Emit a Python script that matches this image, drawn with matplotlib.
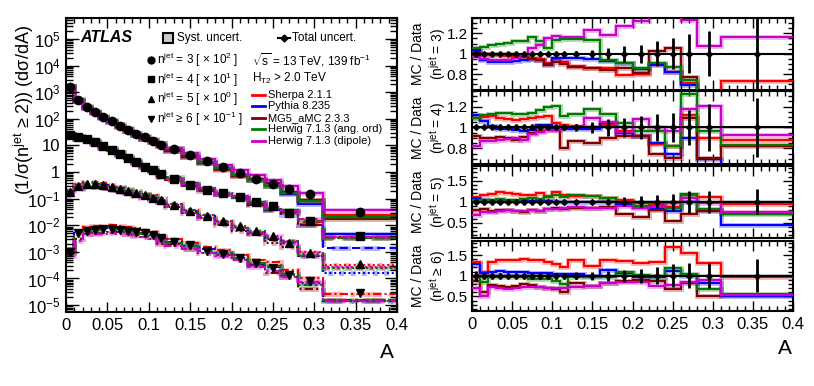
import numpy as np
import matplotlib.pyplot as plt
from matplotlib.patches import Rectangle
from matplotlib.ticker import (MultipleLocator, FixedLocator, FixedFormatter,
                               LogLocator, NullFormatter, FuncFormatter)

plt.rcParams['font.family'] = ['Liberation Sans', 'DejaVu Sans']
plt.rcParams['mathtext.fontset'] = 'custom'
plt.rcParams['mathtext.rm'] = 'Liberation Sans'
plt.rcParams['mathtext.it'] = 'Liberation Sans:italic'
plt.rcParams['mathtext.bf'] = 'Liberation Sans:bold'

# bin edges in A
edges = [0, 0.01, 0.02, 0.03, 0.04, 0.05, 0.06, 0.07, 0.08, 0.09, 0.10, 0.11,
         0.12, 0.14, 0.16, 0.18, 0.20, 0.22, 0.24, 0.26, 0.28, 0.31, 0.40]

# data, already multiplied by the scale factor shown in the legend
data3 = [1620, 513, 282, 186, 120, 83, 55, 38, 27, 20, 14.8, 10.5, 7.2, 4.4,
         2.6, 1.5, 0.89, 0.55, 0.355, 0.224, 0.148, 0.032]
data4 = [24.5, 20, 17, 13.2, 9.3, 6.9, 4.9, 3.3, 2.3, 1.62, 1.17, 0.85, 0.56,
         0.34, 0.22, 0.16, 0.112, 0.076, 0.052, 0.028, 0.0148, 0.004]
data5 = [0.182, 0.30, 0.347, 0.355, 0.316, 0.275, 0.24, 0.20, 0.166, 0.135,
         0.11, 0.087, 0.056, 0.034, 0.0224, 0.0141, 0.0093, 0.006, 0.004,
         0.0022, 0.0009, 0.00035]
data6 = [0.0010, 0.0050, 0.0063, 0.0068, 0.0071, 0.0072, 0.0068, 0.0063,
         0.0056, 0.0050, 0.0043, 0.0032, 0.0023, 0.00174, 0.00112, 0.00085,
         0.00058, 0.00037, 0.00024, 0.000135, 0.000081, 0.000028]

# total relative uncertainty on data
err3 = [0.015, 0.01, 0.01, 0.01, 0.01, 0.01, 0.01, 0.012, 0.012, 0.014, 0.016,
        0.02, 0.025, 0.04, 0.055, 0.08, 0.09, 0.12, 0.15, 0.19, 0.22, 0.45]
err4 = [0.012, 0.01, 0.01, 0.01, 0.01, 0.01, 0.012, 0.012, 0.014, 0.016, 0.02,
        0.022, 0.03, 0.055, 0.08, 0.09, 0.11, 0.13, 0.14, 0.17, 0.23, 0.28]
err5 = [0.03, 0.02, 0.02, 0.02, 0.02, 0.02, 0.02, 0.02, 0.025, 0.025, 0.03,
        0.03, 0.04, 0.05, 0.06, 0.11, 0.13, 0.16, 0.19, 0.26, 0.26, 0.30]
err6 = [0.12, 0.07, 0.06, 0.06, 0.06, 0.06, 0.06, 0.06, 0.06, 0.06, 0.07, 0.07,
        0.08, 0.10, 0.12, 0.15, 0.17, 0.20, 0.28, 0.30, 0.30, 0.40]
syst_half = {'3': 0.01, '4': 0.015, '5': 0.03, '6': 0.04}

# MC / data ratios
sherpa3 = [1.02, 1.00, 0.99, 0.99, 0.98, 0.98, 0.97, 0.96, 0.95, 0.91, 0.95,
           0.92, 0.88, 0.86, 0.86, 0.79, 0.80, 0.90, 0.82, 0.71, 0.60, 0.73]
pythia3 = [1.04, 0.94, 0.92, 0.92, 0.92, 0.93, 0.94, 0.95, 0.94, 0.90, 0.96,
           0.96, 0.96, 0.95, 0.93, 0.91, 0.85, 0.89, 0.82, 0.69, 0.42, 0.15]
mg5_3 = [1.02, 1.00, 1.00, 1.00, 1.00, 0.99, 0.98, 0.95, 0.94, 0.89, 0.92,
         0.90, 0.87, 0.86, 0.84, 0.86, 0.81, 1.03, 1.06, 0.77, 0.60, 0.56]
hang3 = [1.06, 1.07, 1.09, 1.10, 1.11, 1.12, 1.12, 1.16, 1.12, 1.06, 1.13,
         1.14, 1.14, 1.13, 0.94, 0.91, 0.86, 0.91, 0.87, 0.74, 0.55, 0.62]
hdip3 = [0.97, 0.95, 0.94, 0.94, 0.94, 0.96, 0.99, 1.06, 1.09, 1.15, 1.17,
         1.16, 1.16, 1.23, 1.18, 1.27, 1.32, 1.45, 1.45, 1.33, 1.08, 1.16]

sherpa4 = [1.09, 1.10, 1.11, 1.09, 1.08, 1.07, 1.08, 1.09, 1.10, 1.11, 1.04,
           1.02, 1.01, 1.00, 1.02, 0.97, 0.92, 0.84, 0.82, 1.12, 0.90, 0.88]
pythia4 = [1.12, 1.06, 1.01, 0.99, 0.99, 0.98, 0.97, 0.98, 1.02, 1.02, 0.99,
           0.99, 0.99, 0.99, 1.04, 0.95, 0.92, 0.85, 0.75, 0.90, 0.70, 0.36]
mg5_4 = [0.92, 0.90, 0.90, 0.91, 0.90, 0.88, 0.91, 0.95, 0.97, 0.98, 0.98,
         0.80, 0.87, 0.85, 0.90, 0.92, 0.92, 0.75, 0.71, 1.09, 0.71, 0.82]
hang4 = [1.09, 1.12, 1.13, 1.14, 1.14, 1.13, 1.13, 1.14, 1.17, 1.20, 1.21,
         1.11, 1.13, 1.18, 1.13, 1.04, 0.97, 0.97, 0.82, 1.32, 0.97, 0.83]
hdip4 = [0.82, 0.87, 0.87, 0.88, 0.89, 0.90, 0.88, 0.94, 0.96, 0.98, 0.98,
         1.00, 1.00, 1.09, 1.05, 0.96, 1.08, 1.00, 0.97, 1.18, 1.21, 0.93]

sherpa5 = [1.12, 1.15, 1.18, 1.22, 1.20, 1.18, 1.15, 1.15, 1.20, 1.14, 1.24,
           1.17, 1.14, 1.13, 1.10, 1.05, 0.97, 0.92, 0.87, 1.16, 1.12, 0.95]
pythia5 = [1.10, 1.04, 1.02, 1.02, 1.02, 1.01, 1.01, 1.01, 1.01, 1.01, 1.00,
           1.00, 1.00, 0.99, 1.00, 0.95, 0.88, 0.83, 0.78, 1.00, 0.80, 0.45]
mg5_5 = [0.81, 0.82, 0.78, 0.80, 0.81, 0.77, 0.75, 0.80, 0.78, 0.83, 0.85,
         0.83, 0.85, 0.86, 0.87, 0.70, 0.64, 0.81, 0.55, 0.70, 0.77, 0.73]
hang5 = [1.05, 1.04, 1.05, 1.06, 1.05, 1.04, 1.07, 1.10, 1.07, 1.11, 1.15,
         1.11, 1.15, 1.13, 1.10, 1.00, 0.90, 0.98, 0.85, 1.19, 0.82, 0.72]
hdip5 = [0.69, 0.75, 0.76, 0.78, 0.80, 0.77, 0.77, 0.80, 0.79, 0.82, 0.82,
         0.84, 0.88, 0.85, 0.86, 0.89, 0.85, 0.88, 0.97, 1.10, 0.97, 0.75]

sherpa6 = [1.33, 1.10, 1.33, 1.38, 1.37, 1.38, 1.40, 1.38, 1.37, 1.33, 1.28,
           1.22, 1.37, 1.23, 1.37, 1.35, 1.30, 1.33, 1.70, 1.55, 1.30, 0.97]
pythia6 = [1.29, 1.07, 1.10, 1.12, 1.10, 1.08, 1.08, 1.07, 1.06, 1.06, 1.04,
           1.04, 1.05, 0.99, 1.13, 1.06, 0.98, 0.98, 1.12, 1.00, 0.82, 0.52]
mg5_6 = [0.87, 0.62, 0.77, 0.75, 0.73, 0.75, 0.79, 0.77, 0.74, 0.70, 0.68,
         0.62, 0.83, 0.75, 0.83, 0.88, 0.89, 0.88, 0.67, 0.83, 0.50, 0.54]
hang6 = [0.97, 0.85, 0.97, 0.97, 0.98, 0.97, 0.96, 0.93, 0.93, 0.91, 0.88,
         0.80, 0.98, 0.97, 0.98, 1.08, 1.03, 1.00, 1.18, 1.05, 0.69, 0.55]
hdip6 = [0.71, 0.52, 0.73, 0.70, 0.68, 0.70, 0.72, 0.74, 0.72, 0.70, 0.70,
         0.71, 0.72, 0.76, 0.83, 0.86, 0.84, 0.76, 0.78, 0.85, 0.89, 0.53]

mc_names = ['Sherpa 2.1.1', 'Pythia 8.235', 'MG5_aMC 2.3.3',
            'Herwig 7.1.3 (ang. ord)', 'Herwig 7.1.3 (dipole)']
mc_colors = ['#ff0000', '#0000ff', '#800000', '#007a00', '#cc00cc']

samples = [
    ('3', data3, err3, [sherpa3, pythia3, mg5_3, hang3, hdip3], 'o', '-',
     r'n$^{\rm jet}$ = 3 [ × 10$^{2}$ ]', r'(n$^{\rm jet}$ = 3)', (0.65, 1.35)),
    ('4', data4, err4, [sherpa4, pythia4, mg5_4, hang4, hdip4], 's', (0, (4, 2)),
     r'n$^{\rm jet}$ = 4 [ × 10$^{1}$ ]', r'(n$^{\rm jet}$ = 4)', (0.65, 1.35)),
    ('5', data5, err5, [sherpa5, pythia5, mg5_5, hang5, hdip5], '^', (0, (1, 1.3)),
     r'n$^{\rm jet}$ = 5 [ × 10$^{0}$ ]', r'(n$^{\rm jet}$ = 5)', (0.15, 1.85)),
    ('6', data6, err6, [sherpa6, pythia6, mg5_6, hang6, hdip6], 'v', (0, (4, 1.5, 1, 1.5)),
     r'n$^{\rm jet}$ ≥ 6 [ × 10$^{-1}$ ]', r'(n$^{\rm jet}$ ≥ 6)', (0.15, 1.85)),
]

edges = np.array(edges)
centers = 0.5 * (edges[1:] + edges[:-1])

W, H = 814, 386
fig = plt.figure(figsize=(W / 100, H / 100), dpi=100)


def px_axes(l, t, r, b):
    return fig.add_axes([l / W, 1 - b / H, (r - l) / W, (b - t) / H])


def style(ax):
    ax.tick_params(which='both', direction='in', top=True, right=True,
                   labelsize=12, width=1, pad=4)
    ax.tick_params(which='major', length=7)
    ax.tick_params(which='minor', length=3.5)
    for s in ax.spines.values():
        s.set_linewidth(1.5)
    ax.set_xlim(0, 0.4)
    ax.xaxis.set_major_locator(MultipleLocator(0.05))
    ax.xaxis.set_minor_locator(MultipleLocator(0.01))
    ax.xaxis.set_major_formatter(FuncFormatter(lambda v, p: f'{v:g}'))


# ---- main panel
ax = px_axes(66, 18, 397, 312)
style(ax)
ax.set_yscale('log')
ax.set_ylim(5.5e-6, 6.2e5)
yt = [10.0 ** k for k in range(-5, 6)]
ylab = [r'$10^{%d}$' % k for k in range(-5, 0)] + ['1', '10'] + \
       [r'$10^{%d}$' % k for k in range(2, 6)]
ax.yaxis.set_major_locator(FixedLocator(yt))
ax.yaxis.set_major_formatter(FixedFormatter(ylab))
ax.yaxis.set_minor_locator(LogLocator(base=10, subs=np.arange(2, 10), numticks=30))
ax.yaxis.set_minor_formatter(NullFormatter())
ax.tick_params(axis='y', which='major', length=9)
ax.tick_params(axis='y', which='minor', length=5)

for key, data, err, ratios, mk, ls, lab, rlab, ylim in samples:
    d = np.array(data)
    for r, c in zip(ratios, mc_colors):
        mc = d * np.array(r)
        ax.stairs(mc, edges, baseline=None, color=c, lw=3.5, alpha=0.3, ls=ls)
        ax.stairs(mc, edges, baseline=None, color=c, lw=1.5, ls=ls)
    ax.plot(centers, d, ls='none', marker=mk, ms=6, color='black', zorder=5)

# legend block
T = ax.transAxes
ax.text(0.042, 0.932, 'ATLAS', transform=T, fontsize=11.5, fontweight='bold',
        style='italic', va='center')
ax.add_patch(Rectangle((0.293, 0.915), 0.03, 0.034, transform=T,
                       facecolor='#c8c8c8', edgecolor='black', lw=1.5))
ax.text(0.335, 0.932, 'Syst. uncert.', transform=T, fontsize=8.5, va='center')
ax.plot([0.640, 0.677], [0.932, 0.932], transform=T, color='black', lw=1.5)
ax.plot([0.6585], [0.932], transform=T, marker='D', ms=3.5, color='black')
ax.text(0.683, 0.932, 'Total uncert.', transform=T, fontsize=8.5, va='center')

row_y = [0.857, 0.791, 0.724, 0.658]
for (key, data, err, ratios, mk, ls, lab, rlab, ylim), yy in zip(samples, row_y):
    ax.plot([0.258], [yy], transform=T, marker=mk, ms=5, color='black')
    ax.text(0.275, yy, lab, transform=T, fontsize=8.5, va='center')

ax.text(0.562, 0.857, r'$\sqrt{\rm s}$ = 13 TeV, 139 fb$^{-1}$', transform=T,
        fontsize=8.5, va='center')
ax.text(0.562, 0.796, r'H$_{\rm T2}$ > 2.0 TeV', transform=T, fontsize=8.5,
        va='center')
leg_y = [0.738, 0.699, 0.660, 0.621, 0.582]
for name, c, yy in zip(mc_names, mc_colors, leg_y):
    ax.plot([0.562, 0.601], [yy, yy], transform=T, color=c, lw=2)
    ax.text(0.610, yy, name, transform=T, fontsize=8, va='center')

fig.text(24 / W, 1 - 110 / H, r'(1/σ(n$^{\rm jet}$ ≥ 2)) (dσ/dA)', rotation=90,
         fontsize=13, ha='center', va='center')
fig.text(387 / W, 1 - 352 / H, 'A', fontsize=15, ha='center', va='center')

# ---- ratio panels
panel_px = [(18, 89.5), (91, 164), (166, 237.5), (240.5, 311)]
for i, ((key, data, err, ratios, mk, ls, lab, rlab, ylim), (t, b)) in \
        enumerate(zip(samples, panel_px)):
    rax = px_axes(472, t, 793, b)
    style(rax)
    rax.set_ylim(*ylim)
    if ylim[1] < 1.5:
        rax.yaxis.set_major_locator(FixedLocator([0.8, 1.0, 1.2]))
        rax.yaxis.set_minor_locator(MultipleLocator(0.05))
    else:
        rax.yaxis.set_major_locator(FixedLocator([0.5, 1.0, 1.5]))
        rax.yaxis.set_minor_locator(MultipleLocator(0.1))
    rax.yaxis.set_major_formatter(FuncFormatter(lambda v, p: f'{v:g}'))
    rax.tick_params(axis='y', labelsize=11, pad=3)
    if i < 3:
        rax.tick_params(axis='x', labelbottom=False)

    sh = syst_half[key]
    rax.fill_between([0, 0.4], 1 - sh, 1 + sh, color='#c8c8c8', lw=0, zorder=1)
    for r, c in zip(ratios, mc_colors):
        rax.stairs(r, edges, baseline=None, color=c, lw=3.5, alpha=0.3, zorder=2)
        rax.stairs(r, edges, baseline=None, color=c, lw=1.5, zorder=3)
    rax.axhline(1.0, color='black', lw=1.5, zorder=4)
    rax.errorbar(centers, np.ones(len(centers)), yerr=err, fmt='D', ms=3,
                 color='black', ecolor='black', elinewidth=2, capsize=0,
                 zorder=5)

    yc = 1 - 0.5 * (t + b) / H
    fig.text(418 / W, yc, 'MC / Data', rotation=90, fontsize=10,
             ha='center', va='center')
    fig.text(438 / W, yc, rlab, rotation=90, fontsize=10,
             ha='center', va='center')

fig.text(785 / W, 1 - 348 / H, 'A', fontsize=15, ha='center', va='center')

fig.savefig('out.png', dpi=100)
